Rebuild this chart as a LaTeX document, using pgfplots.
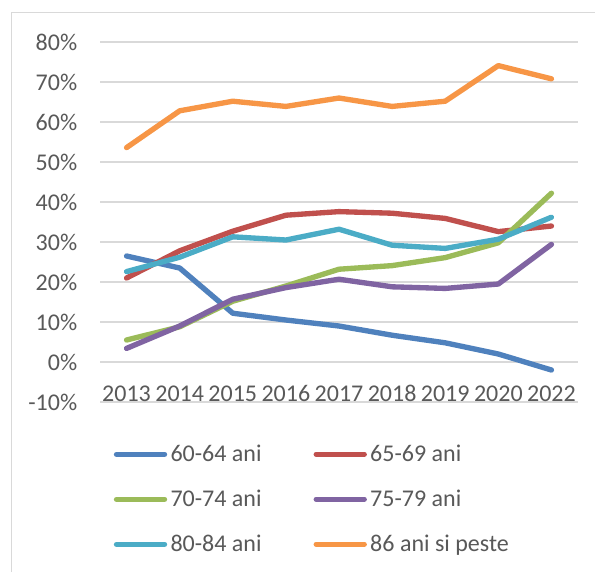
\documentclass[border=0pt]{standalone}
\usepackage{pgfplots}
\pgfplotsset{compat=1.18}
\usepackage{fontspec}
\setmainfont{Carlito}
\definecolor{cA}{HTML}{4F81BD}
\definecolor{cB}{HTML}{C0504D}
\definecolor{cC}{HTML}{9BBB59}
\definecolor{cD}{HTML}{8064A2}
\definecolor{cE}{HTML}{4BACC6}
\definecolor{cF}{HTML}{F79646}
\definecolor{txt}{HTML}{595959}
\definecolor{gridc}{HTML}{D9D9D9}
\begin{document}
\begin{tikzpicture}[x=0.75pt,y=0.75pt]
\fill[white] (0,0) rectangle (595,-572);
\useasboundingbox (0,0) rectangle (595,-572);
\draw[gridc, line width=1.1pt] (11.7,-572) -- (11.7,-12.7) -- (595,-12.7);
\begin{axis}[
  at={(75pt,-301.5pt)}, anchor=south west,
  scale only axis, width=358.5pt, height=270pt,
  xmin=-0.5, xmax=8.5, ymin=-10, ymax=80,
  xtick={0,...,8},
  xticklabels={2013,2014,2015,2016,2017,2018,2019,2020,2022},
  ytick={-10,0,10,20,30,40,50,60,70,80},
  yticklabel={\pgfmathprintnumber{\tick}\%},
  /pgf/number format/assume math mode=true,
  axis line style={draw=none},
  major tick length=0pt,
  ymajorgrids,
  grid style={line width=1.1pt, color=gridc},
  font=\fontsize{18}{21.6}\selectfont,
  tick label style={font=\fontsize{18}{21.6}\selectfont, text=txt},
  yticklabel style={inner sep=0pt, anchor=east, xshift=-16.9pt},
  xticklabel style={inner sep=0pt, anchor=base, yshift=0.4pt},
  every axis plot/.append style={line width=4pt, line join=round, line cap=round, no markers},
  legend columns=2,
  legend cell align=left,
  legend style={at={(0.029,-0.1167)}, anchor=north west, draw=none, fill=none,
    inner sep=0pt, outer sep=0pt, text=txt, font=\fontsize{18}{21.6}\selectfont,
    row sep=18.35pt,
    nodes={inner sep=0pt, text height=13.4pt, text depth=2pt},
    /tikz/every odd column/.append style={column sep=2.5pt},
    /tikz/every even column/.append style={column sep=39pt}},
  legend image code/.code={\draw[#1, line width=4pt, line cap=round] (0pt,0pt) -- (36pt,0pt);},
]
\addplot[cA] coordinates {(0,26.5) (1,23.5) (2,12.2) (3,10.5) (4,9.0) (5,6.7) (6,4.8) (7,2.0) (8,-2.0)};
\addlegendentry{60-64 ani}
\addplot[cB] coordinates {(0,21.0) (1,27.8) (2,32.7) (3,36.7) (4,37.6) (5,37.2) (6,35.9) (7,32.6) (8,34.0)};
\addlegendentry{65-69 ani}
\addplot[cC] coordinates {(0,5.5) (1,8.8) (2,15.2) (3,19.0) (4,23.2) (5,24.1) (6,26.1) (7,29.8) (8,42.2)};
\addlegendentry{70-74 ani}
\addplot[cD] coordinates {(0,3.4) (1,9.0) (2,15.7) (3,18.6) (4,20.7) (5,18.8) (6,18.4) (7,19.5) (8,29.4)};
\addlegendentry{75-79 ani}
\addplot[cE] coordinates {(0,22.6) (1,26.2) (2,31.3) (3,30.5) (4,33.2) (5,29.2) (6,28.4) (7,30.7) (8,36.2)};
\addlegendentry{80-84 ani}
\addplot[cF] coordinates {(0,53.6) (1,62.8) (2,65.2) (3,63.9) (4,66.0) (5,63.9) (6,65.2) (7,74.1) (8,70.8)};
\addlegendentry{86 ani si peste}
\end{axis}
\end{tikzpicture}
\end{document}
